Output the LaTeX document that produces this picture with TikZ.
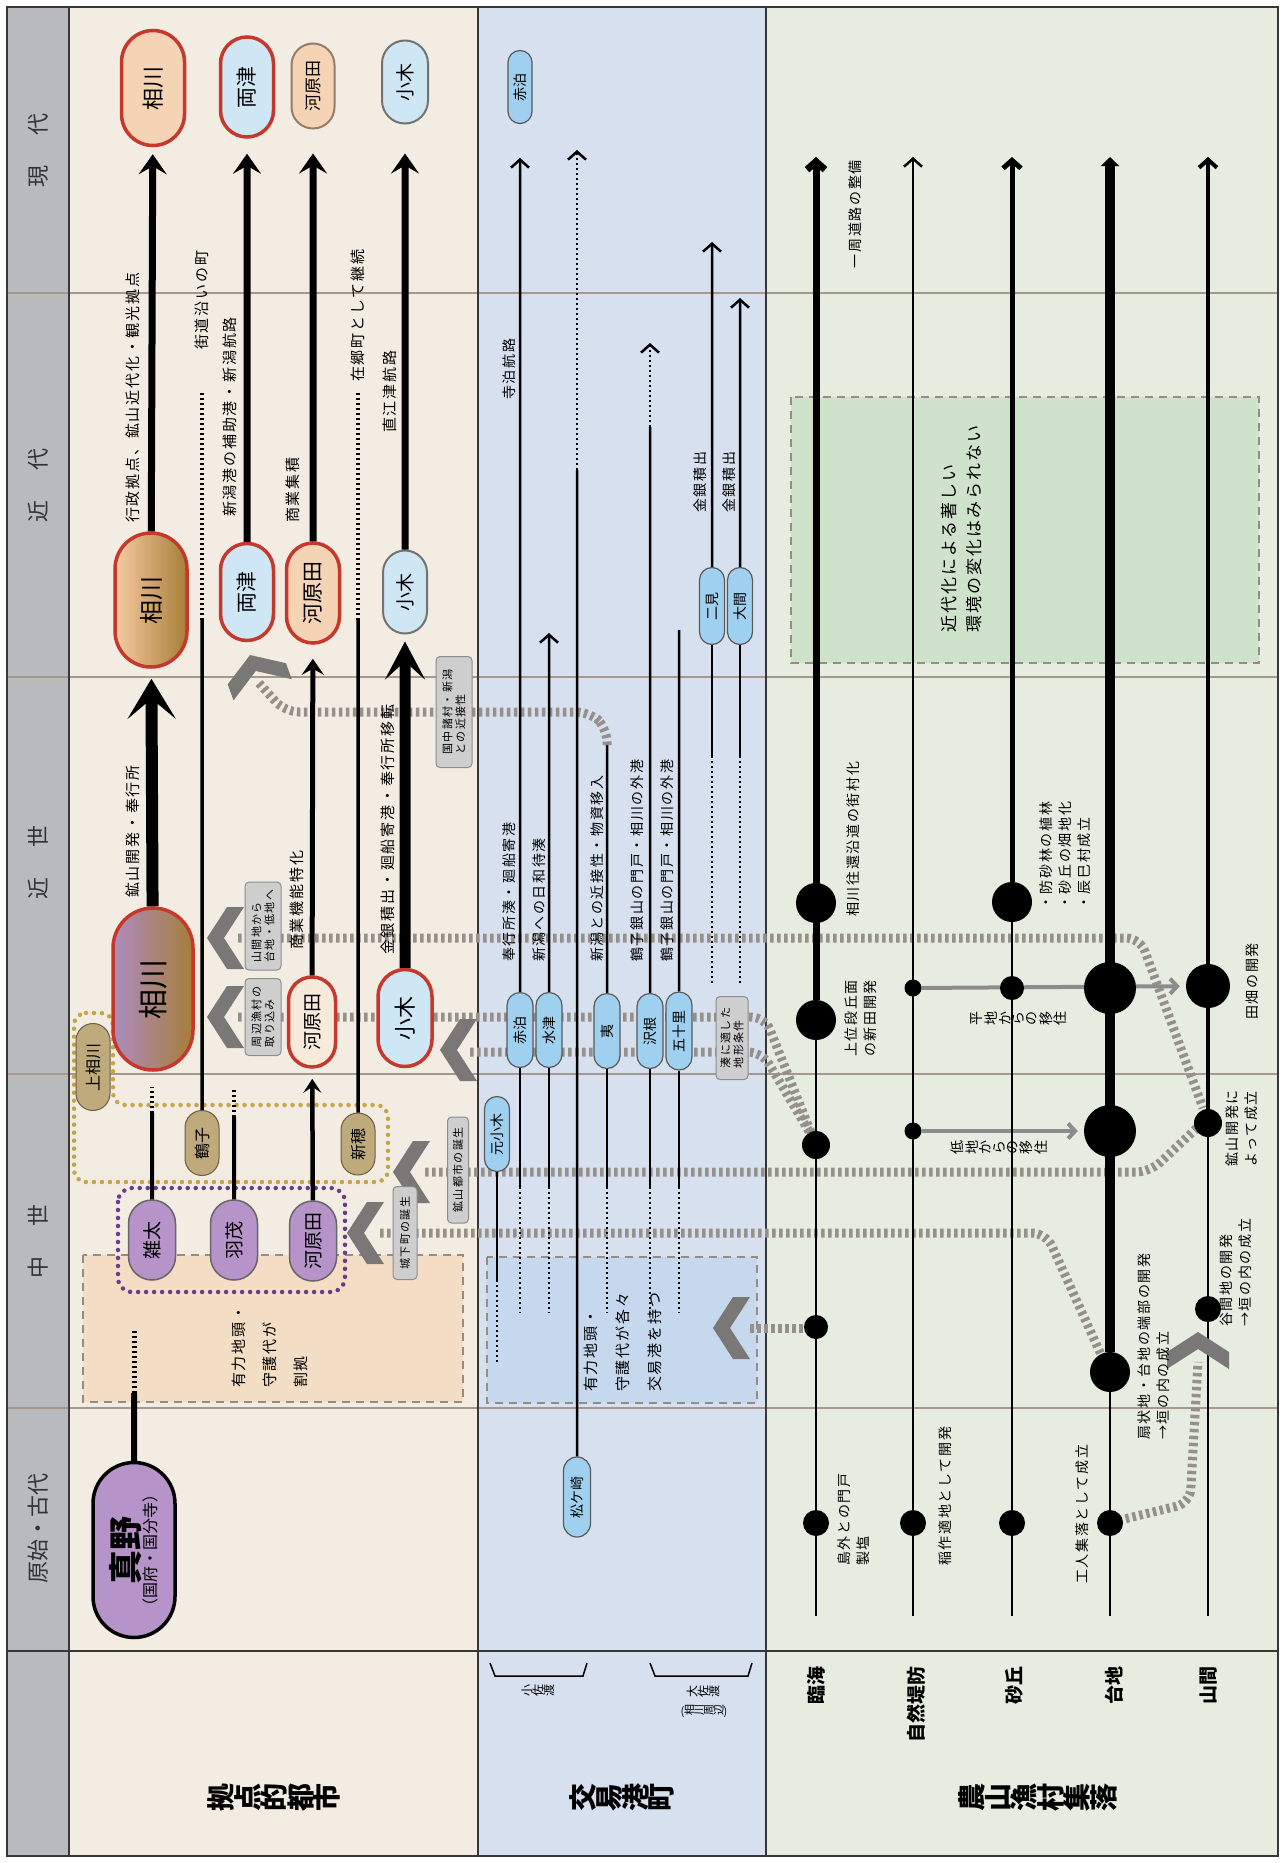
\documentclass[tikz,border=0pt]{standalone}
\usepackage{fontspec}
\setmainfont{Noto Sans CJK JP}
\newfontfamily\tracked[LetterSpace=12]{Noto Sans CJK JP}
\usepackage{graphicx}
\usetikzlibrary{arrows.meta, shapes.misc}
\pgfdeclarelayer{back}
\pgfsetlayers{back,main}
\definecolor{hdrgray}{RGB}{184,186,189}
\definecolor{cityBG}{RGB}{243,236,226}
\definecolor{portBG}{RGB}{214,224,239}
\definecolor{villBG}{RGB}{230,237,224}
\definecolor{frameline}{RGB}{55,55,55}
\definecolor{eraline}{RGB}{165,152,140}
\definecolor{hatch}{RGB}{150,144,139}
\definecolor{chevgray}{RGB}{122,120,118}
\definecolor{tagfill}{RGB}{206,206,206}
\definecolor{tagdraw}{RGB}{140,140,140}
\definecolor{purpleA}{RGB}{182,148,202}
\definecolor{grpPurple}{RGB}{105,60,140}
\definecolor{khaki}{RGB}{191,170,124}
\definecolor{grpKhaki}{RGB}{196,166,72}
\definecolor{cityred}{RGB}{198,55,44}
\definecolor{paleblue}{RGB}{207,231,245}
\definecolor{portblue}{RGB}{160,208,240}
\definecolor{peach}{RGB}{245,212,181}
\definecolor{cream}{RGB}{248,234,218}
\definecolor{brownG}{RGB}{166,126,56}
\definecolor{purpleG}{RGB}{172,140,192}
\definecolor{peachG}{RGB}{247,202,162}
\definecolor{brownline}{RGB}{150,125,105}
\definecolor{beigebox}{RGB}{243,221,197}
\definecolor{bluebox}{RGB}{197,216,238}
\definecolor{greenbox}{RGB}{207,227,204}
\definecolor{boxedge}{RGB}{150,140,130}
\definecolor{movegray}{RGB}{140,140,140}
\newdimen\tategap \tategap=0pt
\newcommand\tate[1]{\tatestep#1\relax}
\def\tatestep#1{\ifx\relax#1\else\rotatebox{90}{#1}\kern\tategap\expandafter\tatestep\fi}

\begin{document}
\begin{tikzpicture}[x=1pt, y=-1pt,
    pill/.style={rounded rectangle, rotate=90, inner sep=0pt},
    city/.style={pill, draw=cityred, line width=3.5pt},
    older/.style={pill, fill=purpleA, draw=black!60, line width=1.5pt,
                  minimum width=80pt, minimum height=47pt, font=\fontsize{19}{19}\selectfont},
    mine/.style={pill, fill=khaki, draw=khaki!55!black, line width=1pt,
                 minimum height=34pt, font=\fontsize{16}{16}\selectfont},
    port/.style={pill, fill=portblue, draw=black!65, line width=1.2pt,
                 minimum width=75pt, minimum height=26pt, font=\fontsize{14}{14}\selectfont},
    vdot/.style={circle, fill=black, inner sep=0pt},
    era/.style={rotate=90, font=\fontsize{22}{22}\selectfont, text=black!80},
    rowname/.style={rotate=90, anchor=east, inner sep=0pt, font=\bfseries\fontsize{19}{19}\selectfont},
    groupname/.style={inner sep=0pt, font=\bfseries\fontsize{28}{28}\selectfont},
    note/.style={rotate=90, anchor=west, inner sep=0pt, font=\tracked\fontsize{14}{19}\selectfont},
    notes/.style={note, anchor=north west, align=left},
    tag/.style={rotate=90, rounded corners=4pt, fill=tagfill, draw=tagdraw, line width=1pt,
                align=left, inner sep=3pt, font=\tracked\fontsize{11}{13}\selectfont},
    lane/.style={line width=2.5pt},
    barb/.style={-{Straight Barb[length=8pt, width=18pt]}},
    modern/.style={line width=7pt, -{Stealth[length=20pt, width=28pt, inset=8pt]}},
    hatched/.style={draw=hatch, line width=9pt, dash pattern=on 3.5pt off 3.5pt, rounded corners=14pt},
    dotline/.style={line width=5pt, dash pattern=on 2.5pt off 2.5pt},
    finedots/.style={line width=2.5pt, dash pattern=on 2pt off 3pt},
    migrate/.style={draw=movegray, line width=4pt, -{Straight Barb[length=7pt, width=15pt]}},
    boxline/.style={draw=boxedge, line width=1.5pt, dash pattern=on 8pt off 6pt},
    chev/.pic={\fill[chevgray] (0,0) -- (20,-31) -- (37,-31) -- (17,0) -- (37,31) -- (20,31) -- cycle;}
  ]
  \useasboundingbox (0,0) rectangle (1285,1863);

  \begin{pgfonlayer}{back}
    \fill[hdrgray] (7,7) rectangle (69,1856);
    \fill[cityBG] (69,7) rectangle (478,1856);
    \fill[portBG] (478,7) rectangle (766,1856);
    \fill[villBG] (766,7) rectangle (1278,1856);
    \foreach \y in {293,677,1074,1408}
      \draw[eraline, line width=1.5pt] (7,\y) -- (1278,\y);
    \draw[frameline, line width=2pt] (69,7) -- (69,1856) (478,7) -- (478,1856)
      (766,7) -- (766,1856) (7,1651) -- (1278,1651);
    \draw[frameline, line width=2pt] (7,7) rectangle (1278,1856);
    \draw[boxline, fill=beigebox] (83,1255) rectangle (463,1402);
    \draw[boxline, fill=bluebox] (487,1257) rectangle (757,1403);
    \draw[boxline, fill=greenbox] (791,397) rectangle (1259,663);
    \draw[grpPurple, line width=4.5pt, dash pattern=on 0pt off 8pt, line cap=round, rounded corners=14pt]
      (118,1188) rectangle (345,1292);
    \draw[grpKhaki, line width=4.5pt, dash pattern=on 0pt off 8pt, line cap=round, rounded corners=12pt]
      (74,1013) -- (113,1013) -- (113,1105) -- (388,1105) -- (388,1182) -- (74,1182) -- cycle;
  \end{pgfonlayer}

  \node[era] at (38,150) {現\hspace{30pt}代};
  \node[era] at (38,485) {近\hspace{30pt}代};
  \node[era] at (38,862) {近\hspace{30pt}世};
  \node[era] at (38,1241) {中\hspace{30pt}世};
  \node[era] at (38,1528) {原始・古代};

  \node[pill, fill=purpleA, draw=black, line width=3.5pt, minimum width=175pt, minimum height=82pt, align=center]
    (mano) at (134,1550) {{\fontsize{34}{36}\selectfont\bfseries 真野}\\{\fontsize{16}{17}\selectfont （国府・国分寺）}};
  \node[older] (zota) at (152,1240) {雑太};
  \node[older] (hamochi) at (234,1240) {羽茂};
  \node[older] (kawaharadaC) at (313,1241) {河原田};
  \node[mine, minimum width=87pt] (kamiaikawa) at (93,1067) {上相川};
  \node[mine, minimum width=65pt] (tsurushi) at (202,1143) {鶴子};
  \node[mine, minimum width=62pt] (niibo) at (358,1144) {新穂};

  \node[city, left color=purpleG, right color=brownG, minimum width=162pt, minimum height=80pt,
        font=\fontsize{30}{30}\selectfont] (aikawaE) at (153,989) {相川};
  \node[city, fill=cream, minimum width=90pt, minimum height=47pt, font=\fontsize{19}{19}\selectfont]
    (kawaharadaE) at (312,1022) {河原田};
  \node[city, fill=paleblue, minimum width=97pt, minimum height=54pt, font=\fontsize{22}{22}\selectfont]
    (ogiE) at (405,1018) {小木};

  \node[city, left color=peachG, right color=brownG, minimum width=134pt, minimum height=72pt,
        font=\fontsize{24}{24}\selectfont] (aikawaM) at (151,600) {相川};
  \node[city, fill=paleblue, minimum width=97pt, minimum height=53pt, font=\fontsize{21}{21}\selectfont]
    (ryotsuM) at (247,592) {両津};
  \node[city, fill=peach, minimum width=100pt, minimum height=53pt, font=\fontsize{21}{21}\selectfont]
    (kawaharadaM) at (313,593) {河原田};
  \node[pill, fill=paleblue, draw=black!55, line width=2pt, minimum width=83pt, minimum height=44pt,
        font=\fontsize{19}{19}\selectfont] (ogiM) at (405,592) {小木};

  \node[city, fill=peach, minimum width=115pt, minimum height=63pt, font=\fontsize{22}{22}\selectfont]
    (aikawaP) at (153,88) {相川};
  \node[city, fill=paleblue, minimum width=100pt, minimum height=53pt, font=\fontsize{21}{21}\selectfont]
    (ryotsuP) at (247,87) {両津};
  \node[pill, fill=peach, draw=brownline, line width=2pt, minimum width=85pt, minimum height=43pt,
        font=\fontsize{17}{17}\selectfont] (kawaharadaP) at (313,86) {河原田};
  \node[pill, fill=paleblue, draw=black!55, line width=2pt, minimum width=83pt, minimum height=46pt,
        font=\fontsize{19}{19}\selectfont] (ogiP) at (405,82) {小木};

  \coordinate (manoS) at (134,1393);
  \coordinate (manoD) at (134,1329);
  \coordinate (zotaS) at (152,1113);
  \coordinate (zotaD) at (152,1087);
  \coordinate (hamochiS) at (234,1117);
  \coordinate (hamochiD) at (234,1088);
  \coordinate (tsurushiS) at (202,620);
  \coordinate (tsurushiD) at (202,392);
  \coordinate (niiboS) at (358,620);
  \coordinate (niiboD) at (358,392);
  \draw[line width=6pt] (mano) -- (manoS);
  \draw[dotline] (manoS) -- (manoD);
  \draw[line width=4pt] (zota) -- (zotaS);
  \draw[dotline, line width=4pt] (zotaS) -- (zotaD);
  \draw[line width=4pt] (hamochi) -- (hamochiS);
  \draw[dotline, line width=4pt] (hamochiS) -- (hamochiD);
  \draw[line width=4.5pt, -{Stealth[length=14pt, width=18pt, inset=6pt]}, shorten >=10pt] (kawaharadaC) -- (kawaharadaE);
  \draw[line width=3.5pt] (tsurushi) -- (tsurushiS);
  \draw[dotline, line width=4pt] (tsurushiS) -- (tsurushiD);
  \draw[line width=3.5pt] (niibo) -- (niiboS);
  \draw[dotline, line width=4pt] (niiboS) -- (niiboD);
  \draw[line width=12pt, -{Stealth[length=40pt, width=48pt, inset=20pt]}, shorten >=10pt] (aikawaE) -- (aikawaM);
  \draw[line width=11pt, -{Stealth[length=38pt, width=40pt, inset=18pt]}, shorten >=7pt] (ogiE) -- (ogiM);
  \draw[line width=5pt, -{Stealth[length=16pt, width=22pt, inset=6pt]}, shorten >=14pt] (kawaharadaE) -- (kawaharadaM);
  \draw[modern, shorten >=7pt] (aikawaM) -- (aikawaP);
  \draw[modern, shorten >=15pt] (ryotsuM) -- (ryotsuP);
  \draw[modern, shorten >=24pt] (kawaharadaM) -- (kawaharadaP);
  \draw[modern, shorten >=29pt] (ogiM) -- (ogiP);

  \node[note, font=\tracked\fontsize{15}{19}\selectfont] at (133,523) {行政拠点、鉱山近代化・観光拠点};
  \node[note, font=\tracked\fontsize{15}{19}\selectfont] at (133,898) {鉱山開発・奉行所};
  \node[note, font=\tracked\fontsize{15}{19}\selectfont] at (230,517) {新潟港の補助港・新潟航路};
  \node[note, font=\tracked\fontsize{15}{19}\selectfont] at (202,350) {街道沿いの町};
  \node[note, font=\tracked\fontsize{15}{19}\selectfont] at (358,382) {在郷町として継続};
  \node[note, font=\tracked\fontsize{15}{19}\selectfont] at (297,950) {商業機能特化};
  \node[note, font=\tracked\fontsize{15}{19}\selectfont] at (293,523) {商業集積};
  \node[note, font=\tracked\fontsize{15}{19}\selectfont] at (388,955) {金銀積出・廻船寄港・奉行所移転};
  \node[note, font=\tracked\fontsize{15}{19}\selectfont] at (390,433) {直江津航路};
  \node[notes, font=\tracked\fontsize{15}{31}\selectfont] at (232,1388) {有力地頭・\\守護代が\\割拠};

  \node[port, minimum width=73pt, minimum height=24pt] (akadomariP) at (520,87) {赤泊};
  \node[port] (akadomari) at (520,1030) {赤泊};
  \node[port] (suizu) at (549,1030) {水津};
  \node[port] (ebisu) at (607,1031) {夷};
  \node[port] (sawane) at (650,1031) {沢根};
  \node[port, minimum width=78pt] (isori) at (679,1031) {五十里};
  \node[port, minimum width=77pt, minimum height=25pt] (futami) at (712,606) {二見};
  \node[port, minimum width=77pt, minimum height=25pt] (oma) at (740,606) {大間};
  \node[port, minimum height=25pt] (motoogi) at (497,1134) {元小木};
  \node[port, minimum width=80pt, minimum height=27pt] (matsugasaki) at (577,1497) {松ケ崎};

  \coordinate (akadomariT) at (520,158);
  \coordinate (suizuT) at (549,633);
  \coordinate (matsuS) at (577,470);
  \coordinate (matsuT) at (577,150);
  \coordinate (ebisuT) at (607,745);
  \coordinate (sawaneS) at (650,427);
  \coordinate (sawaneT) at (650,343);
  \coordinate (isoriT) at (679,630);
  \coordinate (futamiS) at (712,983);
  \coordinate (futamiM) at (712,757);
  \coordinate (futamiT) at (712,242);
  \coordinate (omaS) at (740,983);
  \coordinate (omaM) at (740,757);
  \coordinate (omaT) at (740,298);
  \coordinate (motoogiS) at (497,1280);
  \coordinate (motoogiD) at (497,1363);
  \draw[lane, barb] (akadomari) -- (akadomariT);
  \draw[lane, barb] (suizu) -- (suizuT);
  \draw[lane] (matsugasaki) -- (matsuS);
  \draw[finedots, barb] (matsuS) -- (matsuT);
  \draw[lane] (ebisu) -- (ebisuT);
  \draw[lane] (sawane) -- (sawaneS);
  \draw[finedots, barb] (sawaneS) -- (sawaneT);
  \draw[lane] (isori) -- (isoriT);
  \draw[finedots] (futamiS) -- (futamiM);
  \draw[lane] (futamiM) -- (futami);
  \draw[lane, barb] (futami) -- (futamiT);
  \draw[finedots] (omaS) -- (omaM);
  \draw[lane] (omaM) -- (oma);
  \draw[lane, barb] (oma) -- (omaT);
  \draw[lane] (motoogi) -- (motoogiS);
  \draw[finedots] (motoogiS) -- (motoogiD);
  \foreach \p/\x in {akadomari/520, suizu/549, ebisu/607, sawane/650, isori/679} {
    \draw[lane] (\p) -- (\x,1187);
    \draw[finedots] (\x,1187) -- (\x,1313);
  }

  \node[note] at (509,962) {奉行所湊・廻船寄港};
  \node[note] at (539,962) {新潟への日和待湊};
  \node[note] at (597,962) {新潟との近接性・物資移入};
  \node[note] at (637,962) {鶴子銀山の門戸・相川の外港};
  \node[note] at (667,962) {鶴子銀山の門戸・相川の外港};
  \node[note] at (509,400) {寺泊航路};
  \node[note] at (700,513) {金銀積出};
  \node[note] at (729,513) {金銀積出};
  \node[notes, font=\tracked\fontsize{15}{32}\selectfont] at (584,1392) {有力地頭・\\守護代が各々\\交易港を持つ};

  \node[vdot, minimum size=26pt] (rin1) at (816,1523) {};
  \node[vdot, minimum size=24pt] (rin2) at (816,1327) {};
  \node[vdot, minimum size=28pt] (rin3) at (816,1145) {};
  \node[vdot, minimum size=40pt] (rin4) at (816,1020) {};
  \node[vdot, minimum size=40pt] (rin5) at (816,903) {};
  \node[vdot, minimum size=26pt] (shz1) at (913,1523) {};
  \node[vdot, minimum size=17pt] (shz2) at (913,1131) {};
  \node[vdot, minimum size=17pt] (shz3) at (913,988) {};
  \node[vdot, minimum size=26pt] (sak1) at (1012,1523) {};
  \node[vdot, minimum size=24pt] (sak2) at (1012,988) {};
  \node[vdot, minimum size=40pt] (sak3) at (1012,902) {};
  \node[vdot, minimum size=26pt] (dai1) at (1110,1523) {};
  \node[vdot, minimum size=40pt] (dai2) at (1110,1372) {};
  \node[vdot, minimum size=52pt] (dai3) at (1110,1131) {};
  \node[vdot, minimum size=52pt] (dai4) at (1110,988) {};
  \node[vdot, minimum size=26pt] (yam1) at (1208,1309) {};
  \node[vdot, minimum size=28pt] (yam2) at (1208,1123) {};
  \node[vdot, minimum size=44pt] (yam3) at (1208,986) {};

  \coordinate (rinB) at (816,1616);
  \coordinate (rinT) at (816,157);
  \coordinate (shzB) at (913,1616);
  \coordinate (shzT) at (913,157);
  \coordinate (sakB) at (1012,1616);
  \coordinate (sakT) at (1012,157);
  \coordinate (daiB) at (1110,1616);
  \coordinate (daiT) at (1110,157);
  \coordinate (yamB) at (1208,1616);
  \coordinate (yamT) at (1208,157);
  \draw[lane] (rinB) -- (rin4);
  \draw[line width=7pt, barb] (rin4) -- (rinT);
  \draw[lane, barb] (shzB) -- (shzT);
  \draw[lane] (sakB) -- (sak3);
  \draw[line width=5pt, barb] (sak3) -- (sakT);
  \draw[lane] (daiB) -- (dai2);
  \draw[line width=10pt, -{Triangle[length=9pt, width=18pt]}] (dai2) -- (daiT);
  \draw[lane] (yamB) -- (yam2);
  \draw[line width=4pt, barb] (yam2) -- (yamT);

  \begin{pgfonlayer}{back}
    \draw[hatched] (238,938) -- (1140,938) -- (1203,1108);
    \draw[hatched] (238,1017) -- (765,1017) -- (814,1140);
    \draw[hatched] (470,1052) -- (762,1052) -- (814,1140);
    \draw[hatched] (425,1172) -- (1150,1172) -- (1200,1125);
    \draw[hatched] (380,1233) -- (1046,1233) -- (1108,1370);
    \draw[hatched] (750,1328) -- (814,1328);
    \draw[hatched] (1112,1522) -- (1190,1503) -- (1198,1362);
    \draw[hatched] (607,745) -- (607,728) -- (590,712) -- (285,712) -- (258,682);
    \draw[migrate, shorten >=6pt] (shz3) -- (yam3);
    \draw[migrate, shorten >=6pt] (shz2) -- (dai3);
  \end{pgfonlayer}

  \pic at (207,938) {chev};
  \pic at (207,1017) {chev};
  \pic at (440,1050) {chev};
  \pic at (393,1172) {chev};
  \pic at (347,1233) {chev};
  \pic at (713,1328) {chev};
  \pic[rotate=-90] at (1198,1332) {chev};
  \pic[rotate=-70] at (250,655) {chev};

  \node[tag, minimum width=88pt, minimum height=36pt] (tagUpland) at (263,926) {山間地から\\台地・低地へ};
  \node[tag, minimum width=77pt, minimum height=36pt] (tagFishing) at (263,1017) {周辺漁村の\\取り込み};
  \node[tag, minimum width=111pt, minimum height=36pt] (tagKuninaka) at (454,712) {国中諸村・新潟\\との近接性};
  \node[tag, minimum width=106pt, minimum height=21pt] (tagMine) at (458,1170) {鉱山都市の誕生};
  \node[tag, minimum width=93pt, minimum height=24pt] (tagCastle) at (405,1233) {城下町の誕生};
  \node[tag, minimum width=83pt, minimum height=32pt] (tagHarbor) at (732,1038) {湊に適した\\地形条件};

  \node[notes] at (837,1566) {島外との門戸\\製塩};
  \node[note] at (945,1566) {稲作適地として開発};
  \node[note] at (1082,1584) {工人集落として成立};
  \node[notes] at (1137,1440) {扇状地・台地の端部の開発\\→垣の内の成立};
  \node[notes] at (1220,1327) {谷間地の開発\\→垣の内の成立};
  \node[notes] at (1226,1167) {鉱山開発に\\よって成立};
  \node[note] at (1252,1020) {田畑の開発};
  \node[notes] at (845,1057) {上位段丘面\\の新田開発};
  \node[note] at (853,917) {相川往還沿道の街村化};
  \node[notes] at (1040,910) {・防砂林の植林\\・砂丘の畑地化\\・辰巳村成立};
  \node[note, anchor=east] at (855,160) {一周道路の整備};
  \node[notes, font=\tracked\fontsize{17}{25}\selectfont] at (941,633) {近代化による著しい\\環境の変化はみられない};
  \tategap=2pt
  \node[inner sep=0pt, font=\fontsize{14}{14}\selectfont] at (1020,1018) {\tate{平地からの移住}};
  \node[inner sep=0pt, font=\fontsize{14}{14}\selectfont] at (1000,1147) {\tate{低地からの移住}};
  \tategap=0pt

  \node[rowname] at (816,1666) {臨海};
  \node[rowname] at (916,1666) {自然堤防};
  \node[rowname] at (1014,1666) {砂丘};
  \node[rowname] at (1114,1666) {台地};
  \node[rowname] at (1209,1666) {山間};
  \draw[line width=1.5pt] (490,1663) -- (495,1676) -- (583,1676) -- (587,1663);
  \draw[line width=1.5pt] (650,1663) -- (655,1676) -- (748,1676) -- (752,1663);
  \node[inner sep=0pt, font=\fontsize{12}{12}\selectfont] at (538,1690) {\tate{小佐渡}};
  \node[inner sep=0pt, font=\fontsize{12}{12}\selectfont] at (703,1691) {\tate{大佐渡}};
  \node[inner sep=0pt, font=\fontsize{11}{11}\selectfont] at (704,1711) {(\tate{相川周辺})};
  \node[groupname] at (274,1797) {\tate{拠点的都市}};
  \node[groupname] at (622,1797) {\tate{交易港町}};
  \node[groupname] at (1038,1797) {\tate{農山漁村集落}};
\end{tikzpicture}
\end{document}
